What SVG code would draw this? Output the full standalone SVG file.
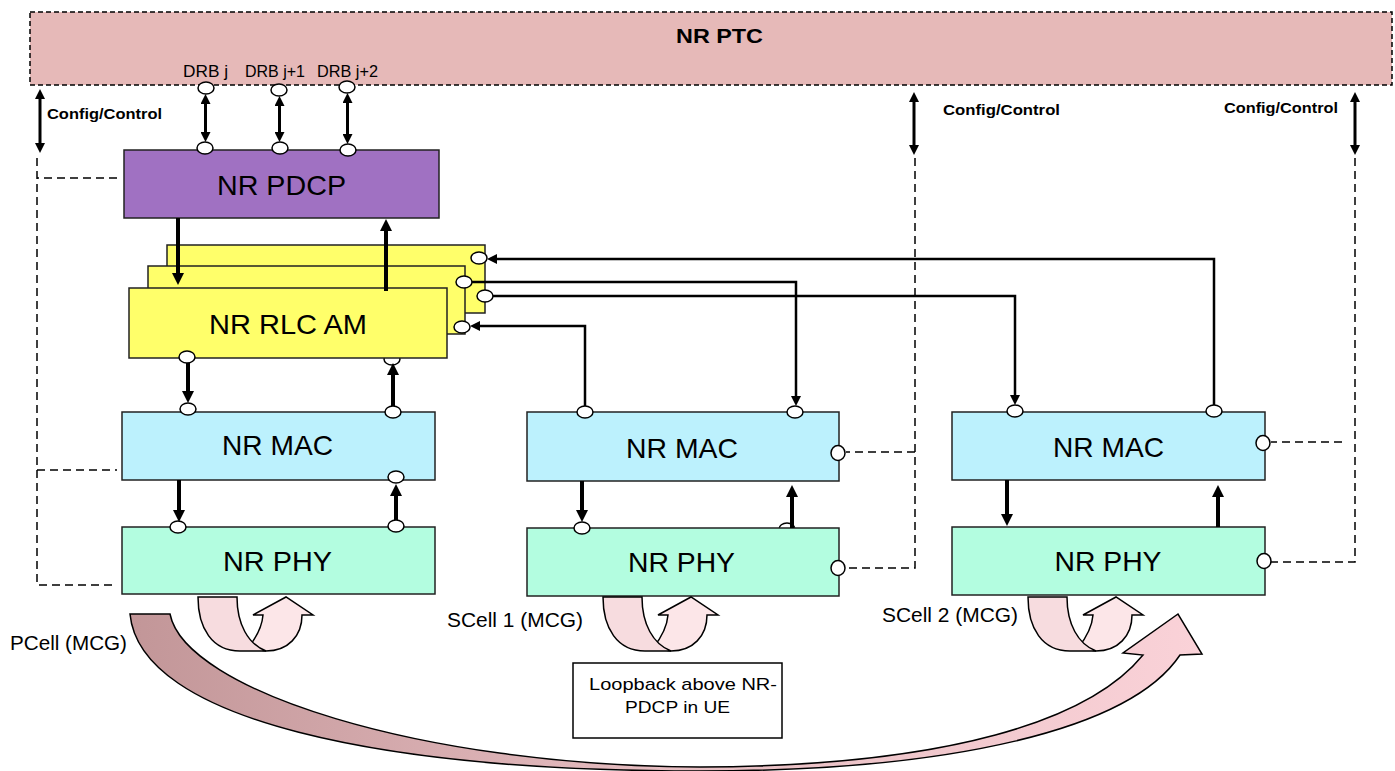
<svg xmlns="http://www.w3.org/2000/svg" width="1395" height="771" viewBox="0 0 1395 771">
<style>
.t{font-family:"Liberation Sans",Arial,sans-serif;fill:#000}
.box{stroke:#222;stroke-width:1.5}
.port{fill:#fff;stroke:#000;stroke-width:1.5}
.dash{fill:none;stroke:#000;stroke-width:1.5;stroke-dasharray:8 5}
.thick{fill:none;stroke:#000;stroke-width:4;marker-end:url(#aT)}
.thin{fill:none;stroke:#000;stroke-width:2.5;marker-end:url(#aS)}
.dbl{fill:none;stroke:#000;stroke-width:3;marker-start:url(#aS);marker-end:url(#aS)}
.loopL{fill:#F7DCDF;stroke:#000;stroke-width:1.5}
.loopR{fill:#FCE6E8;stroke:#000;stroke-width:1.5}
.mac{fill:#BCF1FD}
.phy{fill:#B3FDE0}
.rlc{fill:#FFFF6A}
</style>
<defs>
<marker id="aT" viewBox="0 0 10 10" refX="0" refY="5" markerWidth="12" markerHeight="12" orient="auto-start-reverse" markerUnits="userSpaceOnUse"><path d="M0,0 L10,5 L0,10 z" fill="#000"/></marker>
<marker id="aS" viewBox="0 0 10 10" refX="0" refY="5" markerWidth="10" markerHeight="10" orient="auto-start-reverse" markerUnits="userSpaceOnUse"><path d="M0,0 L10,5 L0,10 z" fill="#000"/></marker>
<linearGradient id="bigGrad" x1="130" y1="0" x2="1200" y2="0" gradientUnits="userSpaceOnUse">
<stop offset="0" stop-color="#C29698"/>
<stop offset="0.5" stop-color="#E6BDC1"/>
<stop offset="1" stop-color="#FAD2D8"/>
</linearGradient>
</defs>
<rect width="1395" height="771" fill="#fff"/>

<g id="ptc">
<rect x="30" y="12" width="1362" height="73" fill="#E6B9B8" stroke="#000" stroke-width="1.5" stroke-dasharray="5 3"/>
<text class="t" x="719.5" y="43" font-size="21" font-weight="bold" text-anchor="middle" textLength="87" lengthAdjust="spacingAndGlyphs">NR PTC</text>
<text class="t" x="183" y="77" font-size="16" textLength="45" lengthAdjust="spacingAndGlyphs">DRB j</text>
<text class="t" x="245" y="77" font-size="16" textLength="60" lengthAdjust="spacingAndGlyphs">DRB j+1</text>
<text class="t" x="317" y="77" font-size="16" textLength="61" lengthAdjust="spacingAndGlyphs">DRB j+2</text>
<ellipse class="port" cx="206" cy="88" rx="8" ry="6"/>
<ellipse class="port" cx="279" cy="90" rx="8" ry="6"/>
<ellipse class="port" cx="347" cy="87" rx="8" ry="6"/>
</g>

<g id="config-labels">
<text class="t" x="47" y="119" font-size="15.5" font-weight="bold" textLength="115" lengthAdjust="spacingAndGlyphs">Config/Control</text>
<text class="t" x="943" y="115" font-size="15.5" font-weight="bold" textLength="117" lengthAdjust="spacingAndGlyphs">Config/Control</text>
<text class="t" x="1224" y="113" font-size="15.5" font-weight="bold" textLength="114" lengthAdjust="spacingAndGlyphs">Config/Control</text>
</g>

<g id="pdcp">
<rect class="box" x="124" y="150" width="315" height="68" fill="#A071C2"/>
<text class="t" x="281.5" y="195" font-size="28" text-anchor="middle" textLength="129" lengthAdjust="spacingAndGlyphs">NR PDCP</text>
<ellipse class="port" cx="205" cy="148" rx="8" ry="6"/>
<ellipse class="port" cx="280" cy="148" rx="8" ry="6"/>
<ellipse class="port" cx="348" cy="150" rx="8" ry="6"/>
</g>

<g id="rlc">
<rect class="box rlc" x="167" y="245" width="318" height="68"/>
<ellipse class="port" cx="479" cy="258" rx="8" ry="6"/>
<ellipse class="port" cx="485" cy="296" rx="8" ry="6"/>
<rect class="box rlc" x="148" y="266" width="317" height="68"/>
<ellipse class="port" cx="464" cy="282" rx="8" ry="6"/>
<ellipse class="port" cx="462" cy="327" rx="8" ry="6"/>
<ellipse class="port" cx="392" cy="359" rx="8" ry="6"/>
<rect class="box rlc" x="129" y="288" width="318" height="70"/>
<text class="t" x="288" y="334" font-size="28" text-anchor="middle" textLength="158" lengthAdjust="spacingAndGlyphs">NR RLC AM</text>
<ellipse class="port" cx="187" cy="357" rx="8" ry="6"/>
</g>

<g id="pcell-mac">
<rect class="box mac" x="122" y="412" width="313" height="68"/>
<text class="t" x="277.5" y="455" font-size="28" text-anchor="middle" textLength="111" lengthAdjust="spacingAndGlyphs">NR MAC</text>
<ellipse class="port" cx="188" cy="409" rx="8" ry="6"/>
<ellipse class="port" cx="393" cy="412" rx="8" ry="6"/>
<ellipse class="port" cx="396" cy="477" rx="8" ry="6"/>
</g>

<g id="pcell-phy">
<rect class="box phy" x="122" y="527" width="313" height="67"/>
<text class="t" x="277.5" y="571" font-size="28" text-anchor="middle" textLength="109" lengthAdjust="spacingAndGlyphs">NR PHY</text>
<ellipse class="port" cx="178" cy="527" rx="8" ry="6"/>
<ellipse class="port" cx="396" cy="526" rx="8" ry="6"/>
</g>

<g id="scell1-mac">
<rect class="box mac" x="527" y="412" width="312" height="69"/>
<text class="t" x="682" y="458" font-size="28" text-anchor="middle" textLength="112" lengthAdjust="spacingAndGlyphs">NR MAC</text>
<ellipse class="port" cx="585" cy="412" rx="8" ry="6"/>
<ellipse class="port" cx="795" cy="412" rx="8" ry="6"/>
<ellipse class="port" cx="838" cy="453" rx="7" ry="7.5"/>
</g>

<g id="scell1-phy">
<ellipse class="port" cx="787" cy="529" rx="8" ry="6"/>
<rect class="box phy" x="527" y="528" width="312" height="68"/>
<text class="t" x="681.5" y="572" font-size="28" text-anchor="middle" textLength="107" lengthAdjust="spacingAndGlyphs">NR PHY</text>
<ellipse class="port" cx="582" cy="528" rx="8" ry="6"/>
<ellipse class="port" cx="838" cy="568" rx="7" ry="7.5"/>
</g>

<g id="scell2-mac">
<rect class="box mac" x="952" y="412" width="313" height="68"/>
<text class="t" x="1108.5" y="457" font-size="28" text-anchor="middle" textLength="111" lengthAdjust="spacingAndGlyphs">NR MAC</text>
<ellipse class="port" cx="1015" cy="411" rx="8" ry="6"/>
<ellipse class="port" cx="1214" cy="411" rx="8" ry="6"/>
<ellipse class="port" cx="1263" cy="443" rx="7" ry="7.5"/>
</g>

<g id="scell2-phy">
<rect class="box phy" x="952" y="527" width="313" height="68"/>
<text class="t" x="1108" y="571" font-size="28" text-anchor="middle" textLength="107" lengthAdjust="spacingAndGlyphs">NR PHY</text>
<ellipse class="port" cx="1264" cy="561" rx="7" ry="7.5"/>
</g>

<g id="connectors">
<path class="dash" d="M117,178 H37 M37,158 V585 H117 M37,470 H117"/>
<path class="dash" d="M915,158 V568 H846 M915,452 H846"/>
<path class="dash" d="M1355,158 V562 H1271 M1342,442 H1271"/>
<path class="dbl" d="M40,99 V143"/>
<path class="dbl" d="M914,102 V145"/>
<path class="dbl" d="M1355,102 V145"/>
<path class="dbl" d="M205.5,104 V132"/>
<path class="dbl" d="M279.5,106 V132"/>
<path class="dbl" d="M347.5,103 V134"/>
<path class="thick" d="M178,218 V273"/>
<path class="thick" d="M386,291 V231"/>
<path class="thick" d="M188,363 V391"/>
<path class="thick" d="M393,406 V375"/>
<path class="thick" d="M179,480 V510"/>
<path class="thick" d="M396,520 V496"/>
<path class="thick" d="M582,481 V510"/>
<path class="thick" d="M792,528 V497"/>
<path class="thick" d="M1007,480 V514"/>
<path class="thick" d="M1218,527 V497"/>
<path class="thin" d="M1214,405 V259 H497"/>
<path class="thin" d="M472,282 H796 V396"/>
<path class="thin" d="M493,296 H1015 V395"/>
<path class="thin" d="M585,406 V326 H480"/>
</g>

<g id="big-arrow">
<path d="M130,614 L170,614 C185,690 420,766 700,767 C950,766 1090,720 1143,655 L1123,653 L1178,614 L1202,654 L1180,655 C1130,730 950,771 700,771 C380,771 140,720 130,614 Z" fill="url(#bigGrad)" stroke="#000" stroke-width="1.5" stroke-linejoin="miter"/>
</g>

<g id="loop-pcell">
<path class="loopR" d="M248,648 C256,638 262,628 263,615 L253,615 L286,597 L313,615 L302,615 C302,636 288,651 266,651 Z"/>
<path class="loopL" d="M198,597 L237,597 C237,624 248,644 266,651 L240,651 C212,651 198,628 198,597 Z"/>
</g>
<g id="loop-scell1" transform="translate(405,0)">
<path class="loopR" d="M248,648 C256,638 262,628 263,615 L253,615 L286,597 L313,615 L302,615 C302,636 288,651 266,651 Z"/>
<path class="loopL" d="M198,597 L237,597 C237,624 248,644 266,651 L240,651 C212,651 198,628 198,597 Z"/>
</g>
<g id="loop-scell2" transform="translate(830,0)">
<path class="loopR" d="M248,648 C256,638 262,628 263,615 L253,615 L286,597 L313,615 L302,615 C302,636 288,651 266,651 Z"/>
<path class="loopL" d="M198,597 L237,597 C237,624 248,644 266,651 L240,651 C212,651 198,628 198,597 Z"/>
</g>

<g id="cell-labels">
<text class="t" x="10" y="650" font-size="20" textLength="117" lengthAdjust="spacingAndGlyphs">PCell (MCG)</text>
<text class="t" x="447" y="627" font-size="20" textLength="136" lengthAdjust="spacingAndGlyphs">SCell 1 (MCG)</text>
<text class="t" x="882" y="622" font-size="20" textLength="136" lengthAdjust="spacingAndGlyphs">SCell 2 (MCG)</text>
</g>

<g id="loopback-note">
<rect x="573" y="663" width="209" height="75" fill="#fff" stroke="#000" stroke-width="1.5"/>
<text class="t" x="589" y="690" font-size="17" textLength="188" lengthAdjust="spacingAndGlyphs">Loopback above NR-</text>
<text class="t" x="625" y="713" font-size="17" textLength="105" lengthAdjust="spacingAndGlyphs">PDCP in UE</text>
</g>
</svg>
